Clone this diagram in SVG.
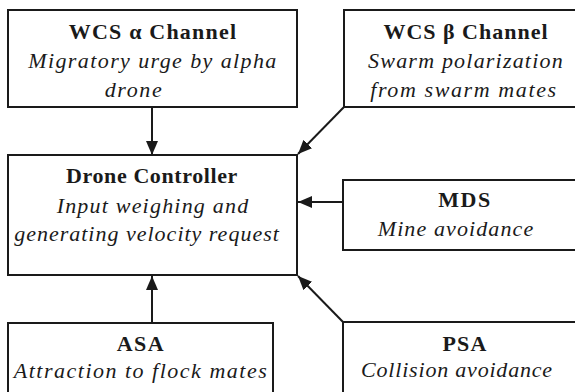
<svg xmlns="http://www.w3.org/2000/svg" width="575" height="392" viewBox="0 0 575 392">
<style>
  .box { fill: #ffffff; stroke: #1a1a1a; stroke-width: 2; }
  .edge { stroke: #1a1a1a; stroke-width: 2; fill: none; marker-end: url(#arrow); }
</style>
<defs>
  <marker id="arrow" markerUnits="userSpaceOnUse" markerWidth="14" markerHeight="12" refX="14" refY="6" orient="auto">
    <path d="M0,0 L14,6 L0,12 Z" fill="#1a1a1a"/>
  </marker>
</defs>
<rect width="575" height="392" fill="#ffffff"/>
<g id="connectors">
  <line class="edge" x1="152" y1="107" x2="152" y2="155"/>
  <line class="edge" x1="344" y1="107" x2="298" y2="154"/>
  <line class="edge" x1="343" y1="202" x2="298" y2="202"/>
  <line class="edge" x1="152" y1="323" x2="152" y2="276"/>
  <line class="edge" x1="343" y1="322" x2="298" y2="276"/>
</g>
<g font-family="Liberation Serif" font-size="22" fill="#1a1a1a" text-anchor="middle">
<g id="wcs-alpha">
  <rect class="box" x="8" y="10" width="289" height="97"/>
  <text font-weight="bold" letter-spacing="1.2" x="153" y="39">WCS α Channel</text>
  <text font-style="italic" letter-spacing="1.4" x="153" y="68">Migratory urge by alpha</text>
  <text font-style="italic" letter-spacing="1.6" x="134" y="97">drone</text>
</g>
<g id="wcs-beta">
  <rect class="box" x="344" y="10" width="242" height="97"/>
  <text font-weight="bold" letter-spacing="1.0" x="466" y="39">WCS β Channel</text>
  <text font-style="italic" letter-spacing="1.2" x="466" y="68">Swarm polarization</text>
  <text font-style="italic" letter-spacing="1.6" x="464" y="97">from swarm mates</text>
</g>
<g id="drone-controller">
  <rect class="box" x="8" y="155" width="289" height="120"/>
  <text font-weight="bold" letter-spacing="0.6" x="152" y="183">Drone Controller</text>
  <text font-style="italic" letter-spacing="1.2" x="153" y="213">Input weighing and</text>
  <text font-style="italic" letter-spacing="1.0" x="147" y="241">generating velocity request</text>
</g>
<g id="mds">
  <rect class="box" x="343" y="180" width="243" height="70"/>
  <text font-weight="bold" letter-spacing="1.5" x="465" y="207">MDS</text>
  <text font-style="italic" letter-spacing="1.1" x="456" y="236">Mine avoidance</text>
</g>
<g id="asa">
  <rect class="box" x="8" y="323" width="265" height="80"/>
  <text font-weight="bold" letter-spacing="1.5" x="141" y="351">ASA</text>
  <text font-style="italic" letter-spacing="1.5" x="141" y="378">Attraction to flock mates</text>
</g>
<g id="psa">
  <rect class="box" x="343" y="322" width="243" height="80"/>
  <text font-weight="bold" letter-spacing="1.1" x="465" y="351">PSA</text>
  <text font-style="italic" letter-spacing="0.8" x="457" y="377">Collision avoidance</text>
</g>
</g>
</svg>
